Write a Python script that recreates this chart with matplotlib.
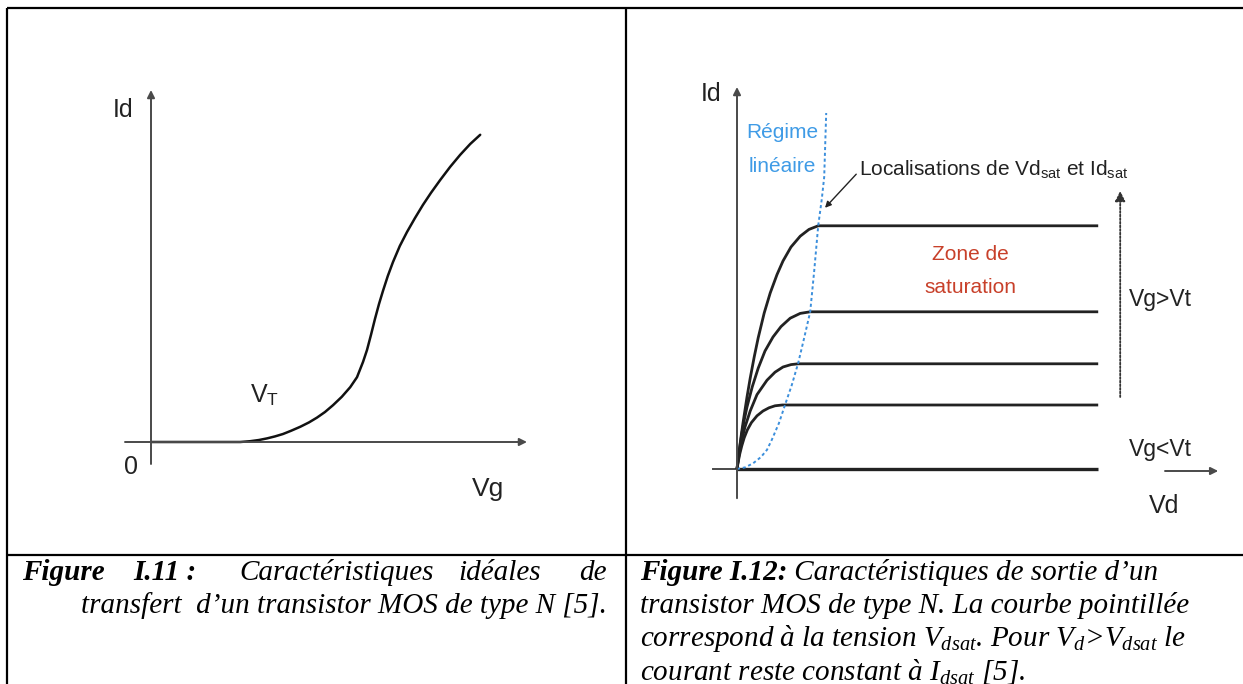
import matplotlib
matplotlib.use("Agg")
import matplotlib.pyplot as plt
from matplotlib import font_manager

# fonts: narrow sans for the diagram labels, Times-like serif for the captions
names = {f.name for f in font_manager.fontManager.ttflist}
SANS = 'Liberation Sans Narrow' if 'Liberation Sans Narrow' in names else 'Liberation Sans'
SERIF = 'Liberation Serif'
plt.rcParams['mathtext.fontset'] = 'custom'
plt.rcParams['mathtext.rm'] = SANS
plt.rcParams['mathtext.it'] = SERIF + ':italic'
plt.rcParams['mathtext.bf'] = SERIF + ':bold:italic'

# Figure I.11 : ideal transfer characteristic Id(Vg), arbitrary units
vg = [0, 2.23, 2.48, 2.7, 2.9, 3.1, 3.3, 3.5, 3.73, 3.95, 4.15, 4.35, 4.55, 4.77, 4.98, 5.15,
      5.3, 5.4, 5.5, 5.6, 5.7, 5.8, 5.92, 6.05, 6.22, 6.4, 6.6, 6.8, 7.0, 7.23, 7.48, 7.73, 7.98, 8.23]
id_vg = [0, 0, 0.02, 0.05, 0.09, 0.14, 0.2, 0.28, 0.38, 0.49, 0.61, 0.75, 0.92, 1.13, 1.37, 1.62,
         2.0, 2.3, 2.68, 3.08, 3.45, 3.78, 4.15, 4.5, 4.9, 5.25, 5.6, 5.93, 6.23, 6.55, 6.88, 7.18, 7.45, 7.68]

# Figure I.12 : output characteristics Id(Vd), one curve per Vg
vd_end = 9.03
id_sat = [6.08, 3.93, 2.63, 1.6]
vd_lin = [
    [0, 0.02, 0.05, 0.1, 0.15, 0.25, 0.33, 0.43, 0.53, 0.68, 0.83, 1.0, 1.15, 1.35, 1.58, 1.8, 2.03],
    [0, 0.03, 0.07, 0.12, 0.18, 0.25, 0.38, 0.53, 0.7, 0.9, 1.1, 1.33, 1.58, 1.83],
    [0, 0.03, 0.07, 0.12, 0.2, 0.33, 0.5, 0.75, 0.95, 1.15, 1.35, 1.53],
    [0, 0.03, 0.07, 0.12, 0.18, 0.26, 0.36, 0.5, 0.65, 0.8, 0.95, 1.13],
]
id_lin = [
    [0, 0.18, 0.42, 0.8, 1.15, 1.8, 2.27, 2.8, 3.28, 3.9, 4.4, 4.86, 5.2, 5.55, 5.82, 5.99, 6.08],
    [0, 0.25, 0.55, 0.88, 1.22, 1.55, 2.05, 2.52, 2.95, 3.3, 3.56, 3.77, 3.89, 3.93],
    [0, 0.22, 0.46, 0.72, 1.05, 1.45, 1.86, 2.22, 2.42, 2.55, 2.61, 2.63],
    [0, 0.18, 0.38, 0.58, 0.78, 0.98, 1.16, 1.33, 1.45, 1.53, 1.58, 1.6],
]
# locus of Vdsat / Idsat (blue dotted curve)
vdsat = [0, 0.2, 0.4, 0.6, 0.75, 0.87, 1.05, 1.2, 1.37, 1.53, 1.68, 1.83, 1.93, 2.03, 2.12, 2.18, 2.23]
idsat_locus = [0, 0.04, 0.14, 0.3, 0.48, 0.73, 1.15, 1.6, 2.1, 2.65, 3.28, 3.93, 4.95, 6.08, 6.75, 7.3, 8.9]

W, H = 1243, 684
fig = plt.figure(figsize=(W / 100, H / 100), dpi=100)

# background axes in pixel units: table borders and captions
bg = fig.add_axes([0, 0, 1, 1])
bg.set_xlim(0, W)
bg.set_ylim(H, 0)
bg.axis('off')
for xs, ys in [([7, W], [8, 8]), ([7, 7], [8, H]), ([626, 626], [8, H]), ([7, W], [555, 555])]:
    bg.plot(xs, ys, color='black', lw=1.6, solid_capstyle='butt')

CAP = 21
ital = dict(family=SERIF, style='italic', size=CAP, va='baseline')
bold = dict(family=SERIF, style='italic', weight='bold', size=CAP, va='baseline')
renderer = fig.canvas.get_renderer()


def runs(x, y, parts):
    for txt, style in parts:
        t = bg.text(x, y, txt, ha='left', **style)
        x = t.get_window_extent(renderer=renderer).x1


# caption baselines
L1, L2, L3, L4 = 580, 613, 646, 679

# left caption (justified)
bg.text(22, L1, 'Figure', **bold)
bg.text(133, L1, 'I.11 :', **bold)
bg.text(239, L1, 'Caractéristiques', **ital)
bg.text(458, L1, 'idéales', **ital)
bg.text(607, L1, 'de', ha='right', **ital)
bg.text(607, L2, 'transfert  d’un transistor MOS de type N [5].', ha='right', **ital)

# right caption
runs(640, L1, [('Figure I.12:', bold), (' Caractéristiques de sortie d’un', ital)])
bg.text(640, L2, 'transistor MOS de type N. La courbe pointillée', **ital)
bg.text(640, L3, r'correspond à la tension $V_{dsat}$. Pour $V_{d}$>$V_{dsat}$ le', **ital)
bg.text(640, L4, r'courant reste constant à $I_{dsat}$ [5].', **ital)

INK = '#222222'
lab = dict(family=SANS, size=18, color=INK)
small = dict(family=SANS, size=15, color=INK)
AX = '#4a4a4a'
arrow = dict(arrowstyle='-|>', color=AX, lw=1.4, mutation_scale=11, shrinkA=0, shrinkB=0)

# ---------- left diagram: origin at pixel (151, 442), 40 px per unit
axl = fig.add_axes([31 / W, (H - 542) / H, 520 / W, 480 / H])
axl.set_xlim(-3, 10)
axl.set_ylim(-2.5, 9.5)
axl.axis('off')
axl.annotate('', xy=(0, 8.8), xytext=(0, -0.55), arrowprops=arrow)
axl.annotate('', xy=(9.4, 0), xytext=(-0.65, 0), arrowprops=arrow)
axl.plot(vg, id_vg, color='#111111', lw=1.8, solid_capstyle='round', solid_joinstyle='round')
axl.text(-0.7, 8.3, 'Id', ha='center', va='center', **lab)
axl.text(-0.5, -0.63, '0', ha='center', va='center', **lab)
axl.text(8.43, -1.18, 'Vg', ha='center', va='center', family=SANS, size=19, color=INK)
axl.text(2.85, 1.18, r'V$_{\mathrm{T}}$', ha='center', va='center', **lab)

# ---------- right diagram: origin at pixel (737, 469), 40 px per unit
axr = fig.add_axes([617 / W, (H - 549) / H, 620 / W, 480 / H])
axr.set_xlim(-3, 12.5)
axr.set_ylim(-2, 10)
axr.axis('off')
axr.annotate('', xy=(0, 9.55), xytext=(0, -0.73), arrowprops=arrow)
axr.plot([-0.6, 0], [0, 0], color=AX, lw=1.4)
axr.annotate('', xy=(12.03, -0.05), xytext=(10.7, -0.05), arrowprops=arrow)

for v, i, isat in zip(vd_lin, id_lin, id_sat):
    axr.plot(v + [vd_end], i + [isat], color=INK, lw=2.0, solid_capstyle='butt', solid_joinstyle='round')
axr.plot([0, vd_end], [0, 0], color=INK, lw=2.4, solid_capstyle='butt')
axr.plot(vdsat, idsat_locus, color='#3c8fdc', lw=1.4, linestyle=(0, (1.6, 1.4)))

# Vg increasing arrow (dotted)
axr.annotate('', xy=(9.58, 6.95), xytext=(9.58, 1.8),
             arrowprops=dict(arrowstyle='-|>', color='#333333', lw=1.3, linestyle=(0, (1, 1)),
                             mutation_scale=15, shrinkA=0, shrinkB=0))

axr.text(-0.65, 9.38, 'Id', ha='center', va='center', **lab)
axr.text(1.13, 8.4, 'Régime', ha='center', va='center', family=SANS, size=15, color='#3f9be6')
axr.text(1.13, 7.55, 'linéaire', ha='center', va='center', family=SANS, size=15, color='#3f9be6')
axr.annotate(r'Localisations de Vd$_{\mathrm{sat}}$ et Id$_{\mathrm{sat}}$', xy=(2.2, 6.53), xytext=(3.05, 7.5),
             ha='left', va='center', **small,
             arrowprops=dict(arrowstyle='-|>', color=INK, lw=1.0, mutation_scale=9,
                             relpos=(0, 0.4), shrinkA=0, shrinkB=0))
axr.text(5.83, 5.35, 'Zone de', ha='center', va='center', family=SANS, size=15, color='#c8402a')
axr.text(5.83, 4.53, 'saturation', ha='center', va='center', family=SANS, size=15, color='#c8402a')
axr.text(10.58, 4.23, 'Vg>Vt', ha='center', va='center', family=SANS, size=16.5, color=INK)
axr.text(10.58, 0.48, 'Vg<Vt', ha='center', va='center', family=SANS, size=16.5, color=INK)
axr.text(10.68, -0.93, 'Vd', ha='center', va='center', **lab)

fig.savefig('out.png', dpi=100)
